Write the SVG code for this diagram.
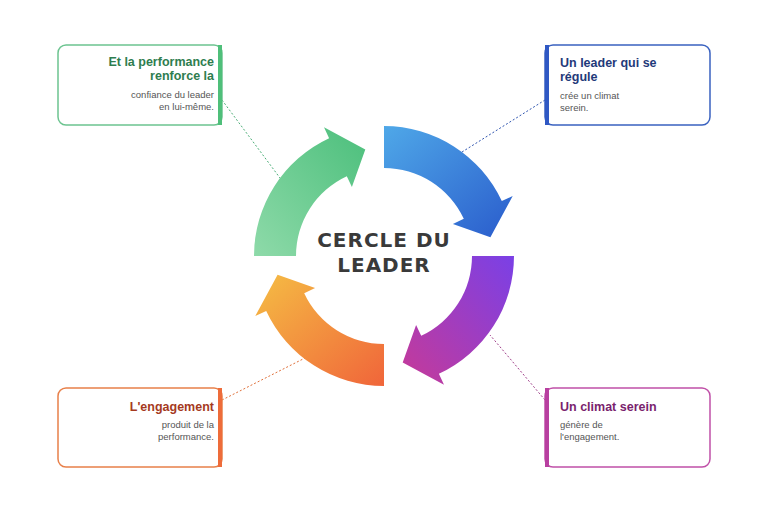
<svg xmlns="http://www.w3.org/2000/svg" width="768" height="512" viewBox="0 0 768 512">
<style>
.t{font-family:"Liberation Sans",Arial,sans-serif;font-weight:bold;font-size:12.5px}
.s{font-family:"Liberation Sans",Arial,sans-serif;font-size:9.5px;fill:#555}
.c{font-family:"DejaVu Sans",sans-serif;font-weight:bold;font-size:20px;fill:#3a3a3a;letter-spacing:1px;text-anchor:middle}
.box{fill:#fff;stroke-width:1.5}
.d{fill:none;stroke-width:1;stroke-dasharray:2 2}
</style>
<defs>
<linearGradient id="gb" x1="0" y1="0" x2="1" y2="1"><stop offset="0" stop-color="#4fa8e8"/><stop offset="1" stop-color="#2a5ccc"/></linearGradient>
<linearGradient id="gp" x1="1" y1="0" x2="0" y2="1"><stop offset="0" stop-color="#7a40e6"/><stop offset="1" stop-color="#c63a98"/></linearGradient>
<linearGradient id="go" x1="1" y1="1" x2="0" y2="0"><stop offset="0" stop-color="#f0653a"/><stop offset="1" stop-color="#f5bd44"/></linearGradient>
<linearGradient id="gg" x1="1" y1="0" x2="0" y2="1"><stop offset="0" stop-color="#4cbf7c"/><stop offset="1" stop-color="#8edaa9"/></linearGradient>
</defs>
<rect width="768" height="512" fill="#fff"/>
<g id="connectors">
<line class="d" x1="222" y1="100" x2="280" y2="178" stroke="#4cae78"/>
<line class="d" x1="545" y1="100" x2="462" y2="152" stroke="#2f55b0"/>
<line class="d" x1="222" y1="400" x2="305" y2="358" stroke="#e0703a"/>
<line class="d" x1="545" y1="400" x2="490" y2="335" stroke="#a0408a"/>
</g>
<g id="cycle">
<path fill="url(#gb)" d="M384,126 A130,130 0 0 1 501.8,201.1 L512.7,196 L490.4,237.3 L452.9,223.9 L463.8,218.8 A88,88 0 0 0 384,168 Z"/>
<path fill="url(#gp)" d="M514,256 A130,130 0 0 1 438.9,373.8 L444,384.7 L402.7,362.4 L416.1,324.9 L421.2,335.8 A88,88 0 0 0 472,256 Z"/>
<path fill="url(#go)" d="M384,386 A130,130 0 0 1 266.2,310.9 L255.3,316 L277.6,274.7 L315.1,288.1 L304.2,293.2 A88,88 0 0 0 384,344 Z"/>
<path fill="url(#gg)" d="M254,256 A130,130 0 0 1 329.1,138.2 L324,127.3 L365.3,149.6 L351.9,187.1 L346.8,176.2 A88,88 0 0 0 296,256 Z"/>
</g>
<g id="center">
<text class="c" x="384" y="247">CERCLE DU</text>
<text class="c" x="384" y="272">LEADER</text>
</g>
<g id="node-tl">
<rect class="box" x="58" y="45" width="164" height="80" rx="8" stroke="#6cc490"/>
<rect x="218" y="45" width="4" height="80" fill="#4fbf7a"/>
<text class="t" x="214" y="66" text-anchor="end" fill="#2e7d4f">Et la performance</text>
<text class="t" x="214" y="80" text-anchor="end" fill="#2e7d4f">renforce la</text>
<text class="s" x="214" y="98" text-anchor="end">confiance du leader</text>
<text class="s" x="214" y="110" text-anchor="end">en lui-même.</text>
</g>
<g id="node-tr">
<rect class="box" x="545" y="45" width="165" height="80" rx="8" stroke="#3a62c0"/>
<rect x="545" y="45" width="4" height="80" fill="#2f58c4"/>
<text class="t" x="560" y="67" fill="#1f3a7a">Un leader qui se</text>
<text class="t" x="560" y="81" fill="#1f3a7a">régule</text>
<text class="s" x="560" y="99">crée un climat</text>
<text class="s" x="560" y="111">serein.</text>
</g>
<g id="node-bl">
<rect class="box" x="58" y="388" width="164" height="79" rx="8" stroke="#e8804a"/>
<rect x="218" y="388" width="4" height="79" fill="#ee6c3a"/>
<text class="t" x="214" y="411" text-anchor="end" fill="#a53a1e">L'engagement</text>
<text class="s" x="214" y="428" text-anchor="end">produit de la</text>
<text class="s" x="214" y="440" text-anchor="end">performance.</text>
</g>
<g id="node-br">
<rect class="box" x="545" y="388" width="165" height="79" rx="8" stroke="#c050a8"/>
<rect x="545" y="388" width="4" height="79" fill="#b83fa0"/>
<text class="t" x="560" y="411" fill="#7a1f6e">Un climat serein</text>
<text class="s" x="560" y="428">génère de</text>
<text class="s" x="560" y="440">l'engagement.</text>
</g>
</svg>
